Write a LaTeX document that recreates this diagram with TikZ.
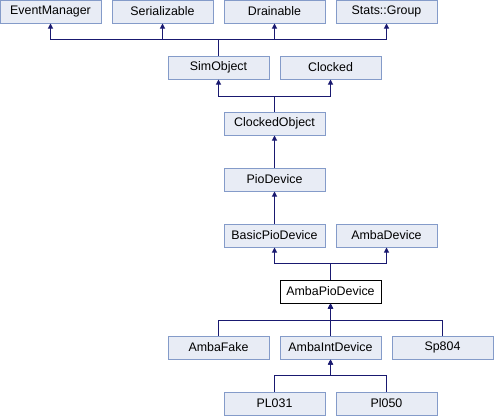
\documentclass[tikz,border=0pt]{standalone}
\usepackage{fontspec}
\setmainfont{Liberation Sans}
\usetikzlibrary{arrows.meta}
\definecolor{boxfill}{RGB}{232,236,245}
\definecolor{boxline}{RGB}{132,155,201}
\definecolor{edgecol}{RGB}{25,25,112}
\begin{document}
\begin{tikzpicture}[x=1pt,y=-1pt,
  cls/.style={draw=boxline, fill=boxfill, line width=1pt, minimum width=101pt, minimum height=23pt, inner sep=0pt, font=\fontsize{12.4}{13}\selectfont},
  cur/.style={cls, draw=black, fill=white},
  inh/.style={draw=edgecol, line width=1pt, -{Triangle[length=5pt,width=5pt]}}]
\useasboundingbox (0,0) rectangle (494,416);
% row 1
\node[cls] (em) at (50.5,11.5) {EventManager};
\node[cls] (ser) at (162.5,11.5) {Serializable};
\node[cls] (dr) at (274.5,11.5) {Drainable};
\node[cls] (sg) at (386.5,11.5) {Stats::Group};
% row 2
\node[cls] (so) at (218.5,67.5) {SimObject};
\node[cls] (clk) at (330.5,67.5) {Clocked};
% row 3
\node[cls] (co) at (274.5,123.5) {ClockedObject};
% row 4
\node[cls] (pio) at (274.5,179.5) {PioDevice};
% row 5
\node[cls] (bpio) at (274.5,235.5) {BasicPioDevice};
\node[cls] (ad) at (386.5,235.5) {AmbaDevice};
% row 6
\node[cur] (apio) at (330.5,291.5) {AmbaPioDevice};
% row 7
\node[cls] (af) at (218.5,347.5) {AmbaFake};
\node[cls] (aid) at (330.5,347.5) {AmbaIntDevice};
\node[cls] (sp) at (442.5,347.5) {Sp804};
% row 8
\node[cls] (pl031) at (274.5,403.5) {PL031};
\node[cls] (pl050) at (386.5,403.5) {Pl050};
% edges
\draw[inh] (so.north) -- ++(0,-16) -| (em.south);
\draw[inh] (so.north) -- ++(0,-16) -| (ser.south);
\draw[inh] (so.north) -- ++(0,-16) -| (dr.south);
\draw[inh] (so.north) -- ++(0,-16) -| (sg.south);
\draw[inh] (co.north) -- ++(0,-15) -| (so.south);
\draw[inh] (co.north) -- ++(0,-15) -| (clk.south);
\draw[inh] (pio.north) -- (co.south);
\draw[inh] (bpio.north) -- (pio.south);
\draw[inh] (apio.north) -- ++(0,-16) -| (bpio.south);
\draw[inh] (apio.north) -- ++(0,-16) -| (ad.south);
\draw[inh] (af.north) -- ++(0,-15) -| (apio.south);
\draw[inh] (aid.north) -- (apio.south);
\draw[inh] (sp.north) -- ++(0,-15) -| (apio.south);
\draw[inh] (pl031.north) -- ++(0,-16) -| (aid.south);
\draw[inh] (pl050.north) -- ++(0,-16) -| (aid.south);
\end{tikzpicture}
\end{document}
